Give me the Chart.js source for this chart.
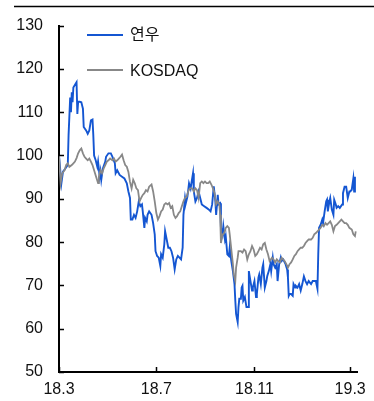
<!DOCTYPE html>
<html>
<head>
<meta charset="utf-8">
<script src="https://cdn.jsdelivr.net/npm/chart.js@4/dist/chart.umd.min.js"></script>
<style>
  html, body { margin: 0; padding: 0; background: #fff; }
  #wrap { position: relative; width: 374px; height: 401px; }
  canvas { display: block; }
  .lg-line { position: absolute; height: 2px; }
  .lg-text { position: absolute; font: 16px "Liberation Sans", Arial, "Noto Sans CJK KR", sans-serif; line-height: 20px; color: #111; white-space: nowrap; }
</style>
</head>
<body>
<div id="wrap">
  <canvas id="c" width="374" height="401"></canvas>
  <div id="legend"></div>
</div>
<script>
// ---- data (x = calendar days since 2018-03-01) ----
const seriesNames = ['연우', 'KOSDAQ'];
const tickDays = [0, 122, 245, 365];
const tickLabels = ['18.3', '18.7', '18.11', '19.3'];

const yeonwooDays = [0,3,5,8,11,12,14,15,16,17,18,21,22,23,24,26,28,30,31,34,36,38,40,42,43,44,46,48,49,51,52,53,55,58,59,62,65,67,70,71,73,76,79,82,85,87,89,90,92,94,96,98,100,102,104,105,107,108,110,111,113,116,118,120,121,123,125,127,128,130,132,133,135,137,139,141,143,145,147,149,151,153,155,156,158,159,161,163,165,166,168,169,171,173,175,177,179,182,185,188,190,192,194,196,197,199,200,202,203,205,206,208,209,211,213,214,216,218,220,221,222,224,225,226,228,229,230,231,233,235,237,238,240,242,243,245,247,248,250,251,253,255,256,258,260,261,263,265,266,268,269,271,273,274,276,278,279,281,282,284,286,287,288,289,291,293,294,296,297,299,301,303,305,307,309,311,313,316,318,320,322,324,325,326,328,330,331,333,335,336,337,339,340,342,344,345,347,348,350,352,355,356,358,360,362,364,365,367,369,370,371];
const yeonwooVals = [100,93.6,96.3,97,97.8,104.7,113.4,110,114.6,112.3,115.7,116.6,116.9,109.6,112.4,112.4,112.3,110.8,106.6,105.8,105,105.8,108.1,108.3,104.7,100,98.9,97.4,98.6,95.1,96.3,94.4,97,98.6,99.7,100.5,100.5,99.7,98.2,95.9,96.6,95.5,95.1,94.7,93.6,91.7,90.2,85.2,85.2,86.3,85.6,87.1,89.4,88.3,88.7,87.1,83.3,85.6,84.8,86.3,87.1,86.3,84.4,81.8,77.9,76.8,76.4,74.5,77.2,76.4,79.5,82.5,80.6,78.7,78.7,77.9,76.4,73.7,76,76.8,76.4,76,78.7,86.3,90.2,89,90.5,93.6,92.4,93.6,95.9,91.7,89.4,90.2,91.7,90.2,88.7,88.3,87.9,87.5,87.1,88.7,92.9,89.4,86.3,90.9,88.7,89,83.3,81.8,83.7,80.6,81.4,77.2,76.8,78.7,75.6,73.3,70.3,66.5,63.4,61.5,65,66.9,66.9,69.5,69.9,66.5,67.3,65,65,73.3,71,68.8,69.5,71,67.3,68,71.8,72.5,70.3,74.1,74.9,69.5,71,72.1,73.3,74.9,73.3,76.4,74.9,74.1,74.9,71,74.9,76.4,75.6,76,76,74.9,73.7,71.8,67.6,68,68,67.6,70.3,69.5,69.9,69.5,70.3,68.8,70.3,72.1,71,70.3,71,70.3,71,71,71,69.2,77.2,83.3,84,85.2,84.4,87.1,89.4,89.8,87.1,89.4,90.2,87.5,86.3,89.8,88.7,87.9,88.3,87.9,88.7,91.3,92.8,92.8,90.2,91.7,91.7,92.1,94.7,91.7,95.1];

const kosdaqDays = [0,2,4,7,9,11,13,16,18,20,22,24,26,28,30,32,34,36,38,40,42,44,46,49,50,52,54,56,58,60,62,64,67,69,71,73,75,77,79,81,83,85,87,89,91,93,95,97,99,101,103,105,107,109,111,113,116,118,120,122,124,126,128,130,132,134,136,138,140,142,144,146,148,150,152,154,156,158,160,162,164,167,169,171,173,175,177,179,181,183,185,187,189,191,193,195,197,199,201,202,203,205,206,208,209,211,213,214,216,218,219,221,222,224,225,228,230,232,234,236,238,240,242,244,246,248,250,252,254,256,258,260,262,264,267,269,271,273,275,277,279,281,283,285,287,289,291,293,295,297,299,301,303,305,307,309,311,313,316,318,320,322,324,326,328,330,332,334,336,338,340,342,344,346,348,350,352,354,356,358,360,362,364,367,369,371,372];
const kosdaqVals = [100,93.6,95.9,96.6,97.8,98.2,97.4,97.8,98.2,98.6,99.4,100.5,101.2,101.6,100.5,99.7,99.3,98.9,99.3,98.6,97.8,96.6,95.4,93.6,95.1,96.6,95.9,97,97.8,98.6,98.9,99.3,98.9,99.3,98.6,98.9,99.3,99.7,100.2,98.9,97.8,97.4,96.2,93.9,92.4,94.4,93.6,92.4,92,89.4,90.2,90.9,91.3,92,91.7,92.8,93.3,91.7,89.4,86.7,85.2,86,87.1,87.5,88.7,89,88.7,89,87.9,88.3,86.3,85.6,86,86.7,87.1,88.3,89.4,90.2,90.5,91.7,92.4,92.4,91.7,92.4,92,90.2,93.6,94,93.6,94,93.6,93.6,94,93.3,92.4,91.3,88.7,89.4,88.7,86.3,79.8,81.8,81.8,82.5,83.3,83.7,83.3,81.8,78.3,74.9,72.6,71,74.1,76.4,77.9,77.9,77.6,78.3,77.9,76,77.2,77.9,79.1,78.3,76.8,77.2,77.9,78.7,78.3,79.5,79.8,78.3,77.2,75.6,76.4,76,75.3,76,75.6,75.3,76.4,76,75.6,74.9,74.1,74.9,75.3,76,76.8,77.2,77.9,78.3,78.7,78.7,79.1,79.8,80.2,80.6,80.6,81,81.8,82.1,82.5,82.9,83.3,84,83.7,84.4,84,84.4,84.8,84,82.5,83.7,84,84.4,84.8,85.2,84.8,84.4,84.4,84,83.3,82.9,81.8,81.4,82.5];

const colors = ['#1456d2', '#888888'];

function pts(xs, ys) { return xs.map((x, i) => ({ x: x, y: ys[i] })); }

const FONT = '"Liberation Sans", Arial, "Noto Sans CJK KR", sans-serif';

const decor = {
  id: 'decor',
  beforeDraw(chart) {
    const ctx = chart.ctx;
    ctx.save();
    ctx.strokeStyle = '#000';
    ctx.lineWidth = 1.5;
    ctx.beginPath();
    ctx.moveTo(14, 6.5);
    ctx.lineTo(374, 6.5);
    ctx.stroke();
    ctx.restore();
  },
  afterDraw(chart) {
    const ctx = chart.ctx;
    const xs = chart.scales.x, ys = chart.scales.y;
    const area = chart.chartArea;
    ctx.save();
    ctx.strokeStyle = '#000';
    ctx.lineWidth = 1.5;
    ctx.beginPath();
    ys.ticks.forEach((t, i) => {
      const py = Math.round(ys.getPixelForTick(i)) + 0.5;
      ctx.moveTo(area.left, py);
      ctx.lineTo(area.left + 5, py);
    });
    xs.ticks.forEach((t, i) => {
      const px = Math.round(xs.getPixelForTick(i)) + 0.5;
      ctx.moveTo(px, area.bottom);
      ctx.lineTo(px, area.bottom - 5);
    });
    ctx.stroke();
    ctx.restore();
  }
};

const chart = new Chart(document.getElementById('c'), {
  type: 'line',
  data: {
    datasets: [
      { label: seriesNames[0], data: pts(yeonwooDays, yeonwooVals), borderColor: colors[0], borderWidth: 1.9, pointRadius: 0, tension: 0, order: 1 },
      { label: seriesNames[1], data: pts(kosdaqDays, kosdaqVals), borderColor: colors[1], borderWidth: 1.8, pointRadius: 0, tension: 0, order: 0 }
    ]
  },
  options: {
    responsive: false,
    animation: false,
    layout: { padding: { left: 0, right: 11, top: 23, bottom: 0 } },
    plugins: { legend: { display: false }, tooltip: { enabled: false } },
    scales: {
      x: {
        type: 'linear',
        min: 0, max: 374,
        afterBuildTicks(scale) { scale.ticks = tickDays.map(v => ({ value: v })); },
        afterFit(scale) { scale.height = 29; },
        ticks: {
          autoSkip: false, maxRotation: 0, padding: 8, color: '#111',
          font: { family: FONT, size: 16 },
          callback(v) { const i = tickDays.indexOf(v); return i >= 0 ? tickLabels[i] : ''; }
        },
        grid: { display: false, drawTicks: false },
        border: { display: true, color: '#000', width: 2 }
      },
      y: {
        min: 50, max: 130,
        afterFit(scale) { scale.width = 59; },
        ticks: { stepSize: 10, padding: 16, color: '#111', font: { family: FONT, size: 16 } },
        grid: { display: false, drawTicks: false },
        border: { display: true, color: '#000', width: 2 }
      }
    }
  },
  plugins: [decor]
});

// HTML legend (real text)
const lg = document.getElementById('legend');
const lgPos = [{ lineTop: 34, textTop: 25 }, { lineTop: 69, textTop: 61 }];
chart.data.datasets.forEach((ds, i) => {
  const ln = document.createElement('div');
  ln.className = 'lg-line';
  ln.style.left = '87px'; ln.style.width = '36px';
  ln.style.top = lgPos[i].lineTop + 'px';
  ln.style.background = ds.borderColor;
  lg.appendChild(ln);
  const tx = document.createElement('div');
  tx.className = 'lg-text';
  tx.style.left = '130px';
  tx.style.top = lgPos[i].textTop + 'px';
  tx.textContent = ds.label;
  lg.appendChild(tx);
});
</script>
</body>
</html>
